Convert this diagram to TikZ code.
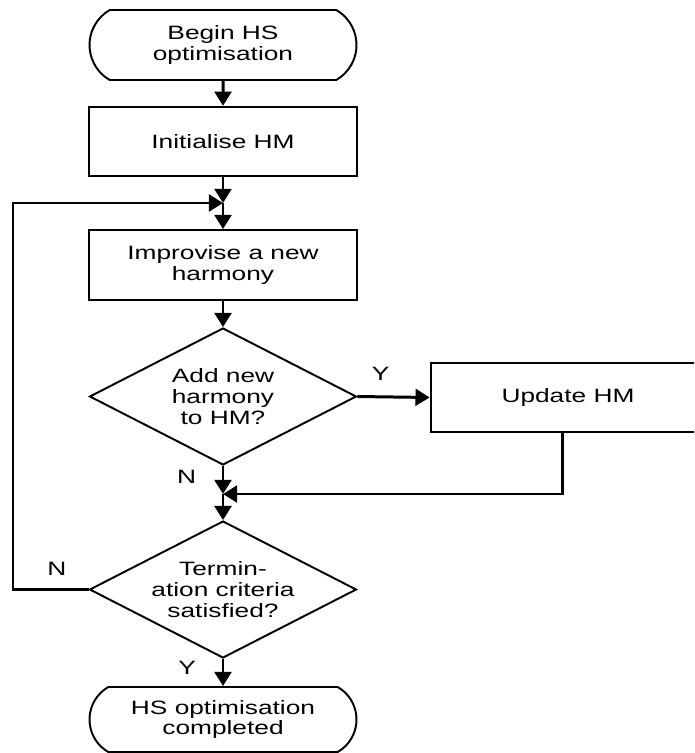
\documentclass[tikz,border=0pt]{standalone}
\usepackage{fontspec}
\setmainfont{Liberation Sans}[FakeStretch=1.36]
\usetikzlibrary{shapes.geometric,shapes.misc,arrows.meta,positioning}
\begin{document}
\begin{tikzpicture}[x=0.02cm,y=-0.02cm,
        font=\fontsize{11}{11.9}\selectfont,
        >={Triangle[length=8pt,width=9.5pt]},
        term/.style={draw,line width=1.1pt,rounded rectangle,rounded rectangle arc length=120,
            minimum width=5.34cm,align=center,inner sep=0pt},
        box/.style={draw,line width=1.1pt,rectangle,minimum width=5.36cm,minimum height=1.39cm,
            align=center,inner sep=0pt},
        decide/.style={draw,line width=1.1pt,diamond,aspect=1.95,minimum width=5.34cm,
            minimum height=2.74cm,align=center,inner sep=0pt},
        conn/.style={->,line width=1.7pt},
        lab/.style={inner sep=0pt}]
    \useasboundingbox (0,0) rectangle (694,753);
    \clip (0,0) rectangle (694,753);
    \node[term,minimum height=1.4cm] (begin) at (223,45) {Begin HS\\optimisation};
    \node[box] (init) at (223,141.5) {Initialise HM};
    \node[box,minimum height=1.4cm] (impr) at (223,265) {Improvise a new\\harmony};
    \node[decide] (add) at (223,396.5) {Add new\\harmony\\to HM?};
    \node[box,minimum width=5.5cm,minimum height=1.38cm] (update) at (568,397.5) {Update HM};
    \node[decide] (term) at (223,589.5) {Termin-\\ation criteria\\satisfied?};
    \node[term,minimum height=1.3cm] (finish) at (223,719.5) {HS optimisation\\completed};
    \coordinate (j1) at (223,203);
    \coordinate (j2) at (223,494);
    \coordinate (loop) at (13,203);
    \draw[conn](begin)--(init);
    \draw[conn](init)--(j1);
    \draw[conn](j1)--(impr);
    \draw[conn](impr)--(add);
    \draw[conn](add.east)--(update.west)node[lab,pos=.32,above=0.29cm]{Y};
    \draw[conn](add.south)--(j2)node[lab,pos=.38,left=0.51cm]{N};
    \draw[conn]([xshift=-3]update.south)|-(j2);
    \draw[conn](j2)--(term.north);
    \draw[conn](term.west)-|node[lab,pos=.21,above=0.25cm]{N}(loop)--(j1);
    \draw[conn](term.south)--(finish.north)node[lab,pos=.34,left=0.51cm]{Y};
\end{tikzpicture}
\end{document}
